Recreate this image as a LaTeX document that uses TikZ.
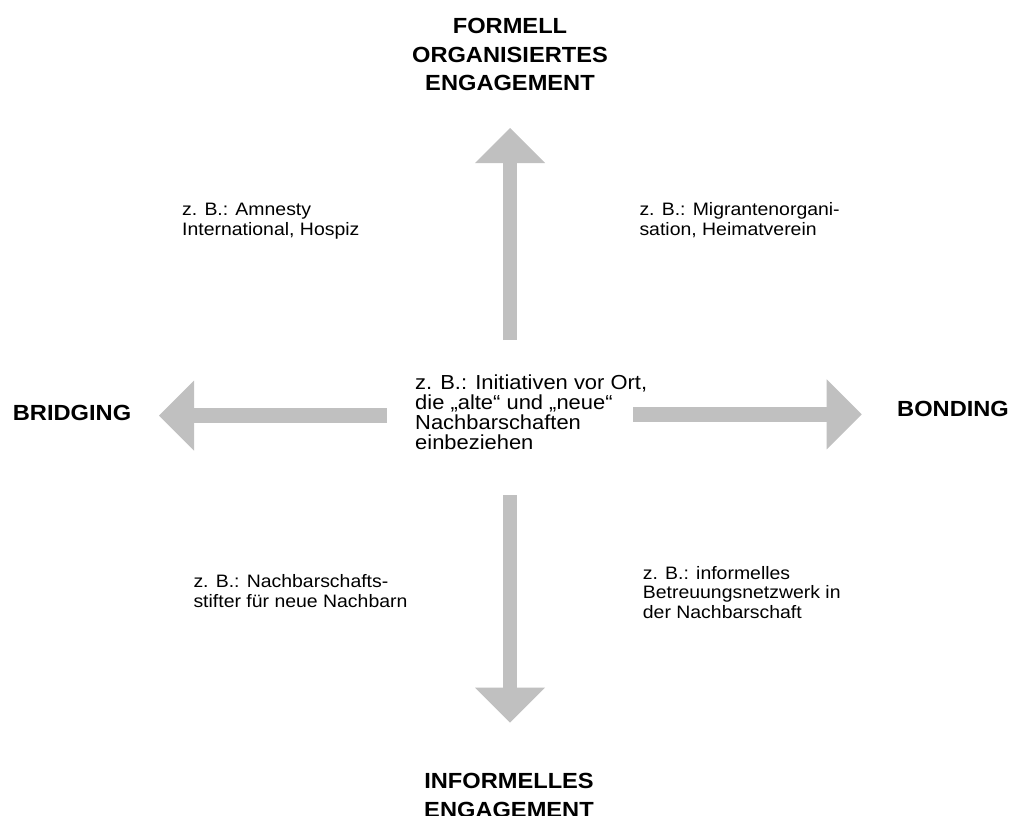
\documentclass[tikz,border=0pt]{standalone}
\usepackage{fontspec}
\setmainfont[FakeStretch=1.08]{Liberation Sans}
\usetikzlibrary{arrows.meta}
\definecolor{arrowgray}{RGB}{192,192,192}
\begin{document}
\begin{tikzpicture}[x=1pt,y=-1pt,
  blockarrow/.style={draw=arrowgray, line width=14.8pt,
    -{Triangle[length=35pt,width=70pt,line width=0pt,fill=arrowgray]}},
  heading/.style={font=\fontsize{21.9}{28.5}\selectfont\bfseries, align=center, inner sep=0pt},
  example/.style={font=\fontsize{18}{19.7}\selectfont, align=left, inner sep=0pt, anchor=base west},
  central/.style={font=\fontsize{20.3}{20}\selectfont, align=left, inner sep=0pt, anchor=base west}]
\useasboundingbox (0,0) rectangle (1012,816);
\fill[white] (0,0) rectangle (1012,816);

% headings (anchor base = baseline of last line)
\node[heading, anchor=base] (formal) at (510,90.7) {FORMELL\\ORGANISIERTES\\ENGAGEMENT};
\node[heading, anchor=base west] (bridging) at (12.7,420) {BRIDGING};
\node[heading, anchor=base west] (bonding) at (897,416.7) {BONDING};
\node[heading, anchor=base] (informal) at (509,817) {INFORMELLES\\ENGAGEMENT};

% centre text
\node[central] (center) at (415,449.5) {z. B.: Initiativen vor Ort,\\die „alte“ und „neue“\\Nachbarschaften\\einbeziehen};

% corner examples
\node[example] (tl) at (182,235.6) {z. B.: Amnesty\\International, Hospiz};
\node[example] (tr) at (639.3,235.6) {z. B.: Migrantenorgani-\\sation, Heimatverein};
\node[example] (bl) at (193.3,607.6) {z. B.: Nachbarschafts-\\stifter für neue Nachbarn};
\node[example] (br) at (642.7,618.4) {z. B.: informelles\\Betreuungsnetzwerk in\\der Nachbarschaft};

% arrows
\coordinate (upS) at (510,340);
\coordinate (upT) at (510,128);
\coordinate (dnS) at (510,495);
\coordinate (dnT) at (510,722.7);
\coordinate (lfS) at (387,415.5);
\coordinate (lfT) at (159,415.5);
\coordinate (rtS) at (633,414.3);
\coordinate (rtT) at (861.7,414.3);
\draw[blockarrow] (upS) -- (upT);
\draw[blockarrow] (dnS) -- (dnT);
\draw[blockarrow] (lfS) -- (lfT);
\draw[blockarrow] (rtS) -- (rtT);
\end{tikzpicture}
\end{document}
